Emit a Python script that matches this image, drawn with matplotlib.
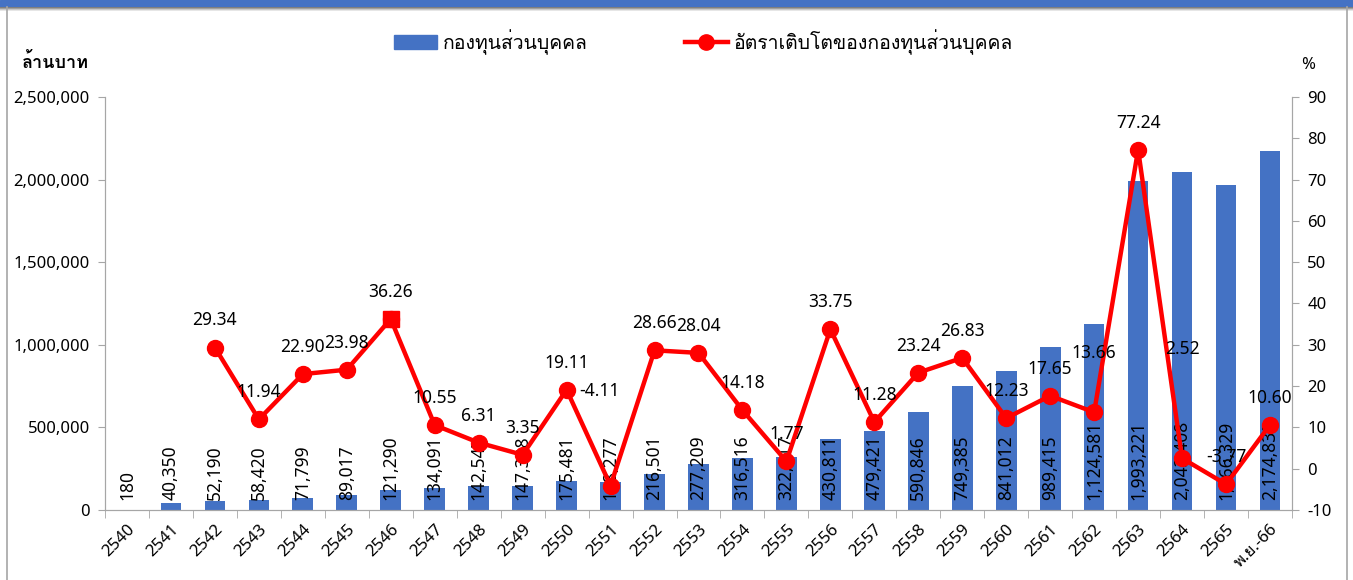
import matplotlib
matplotlib.use("Agg")
from matplotlib import pyplot as plt
from matplotlib import font_manager
from matplotlib.ft2font import FT2Font
from matplotlib.patches import Rectangle
from matplotlib.lines import Line2D
import matplotlib.ticker as ticker

years = ['2540', '2541', '2542', '2543', '2544', '2545', '2546', '2547', '2548',
         '2549', '2550', '2551', '2552', '2553', '2554', '2555', '2556', '2557',
         '2558', '2559', '2560', '2561', '2562', '2563', '2564', '2565', 'พ.ย.-66']
funds = [180, 40350, 52190, 58420, 71799, 89017, 121290, 134091, 142547,
         147328, 175481, 168277, 216501, 277209, 316516, 322117, 430811, 479421,
         590846, 749385, 841012, 989415, 1124581, 1993221, 2043408, 1966329, 2174838]
growth = [None, None, 29.34, 11.94, 22.90, 23.98, 36.26, 10.55, 6.31,
          3.35, 19.11, -4.11, 28.66, 28.04, 14.18, 1.77, 33.75, 11.28,
          23.24, 26.83, 12.23, 17.65, 13.66, 77.24, 2.52, -3.77, 10.60]

bar_name = 'กองทุนส่วนบุคคล'
line_name = 'อัตราเติบโตของกองทุนส่วนบุคคล'

# find a font with thai glyphs
thai_fonts = []
for f in font_manager.fontManager.ttflist:
    try:
        if 0x0E01 in FT2Font(f.fname).get_charmap() and f.name not in thai_fonts:
            thai_fonts.append(f.name)
    except Exception:
        pass
plt.rcParams['font.family'] = ['Noto Sans'] + thai_fonts + ['DejaVu Sans']
plt.rcParams['axes.unicode_minus'] = False

BLUE = '#4472C4'
RED = '#FF0000'
GRAY = '#A6A6A6'

fig = plt.figure(figsize=(13.53, 5.8), dpi=100)
ax = fig.add_axes([0.0776, 0.1207, 0.8773, 0.7121])
ax2 = ax.twinx()

x = list(range(len(years)))
ax.bar(x, funds, width=0.47, color=BLUE, zorder=2)
for i, v in enumerate(funds):
    ax.annotate('{:,}'.format(v), (i, 0), xytext=(0, 7), textcoords='offset points',
                rotation=90, ha='center', va='bottom', fontsize=12.5, color='black', zorder=5)

ax.set_xlim(-0.5, len(years) - 0.5)
ax.set_ylim(0, 2500000)
ax.yaxis.set_major_locator(ticker.MultipleLocator(500000))
ax.yaxis.set_major_formatter(ticker.FuncFormatter(lambda v, p: '{:,.0f}'.format(v)))
ax.set_xticks(x)
ax.set_xticklabels(years, rotation=45, ha='right', rotation_mode='anchor', fontsize=12)
ax.set_xticks([i - 0.5 for i in range(len(years) + 1)], minor=True)
ax.tick_params(axis='x', which='major', length=0, pad=8)
ax.tick_params(axis='x', which='minor', length=6, color=GRAY, direction='out')
ax.tick_params(axis='y', length=5, color=GRAY, labelsize=12, pad=6)

# growth line
gx = [i for i, g in enumerate(growth) if g is not None]
gy = [g for g in growth if g is not None]
ax2.plot(gx, gy, color=RED, lw=3.2, marker='o', ms=11.5, zorder=4)
ax2.plot([6], [growth[6]], color=RED, marker='s', ms=11.5, ls='none', zorder=4)
ax2.set_ylim(-10, 90)
ax2.yaxis.set_major_locator(ticker.MultipleLocator(10))
ax2.tick_params(axis='y', length=5, color=GRAY, labelsize=12, pad=6)

offsets = {11: (-8, 68), 22: (0, 43), 24: (0, 79)}
for i, g in zip(gx, gy):
    dx, dy = offsets.get(i, (0, 19.5))
    ax2.annotate('{:.2f}'.format(g), (i, g), xytext=(dx, dy), textcoords='offset points',
                 ha='center', va='center', fontsize=12.5, color='black', zorder=6)

for a in (ax, ax2):
    a.spines['top'].set_visible(False)
    for s in ('left', 'right', 'bottom'):
        a.spines[s].set_color(GRAY)

# legend
handles = [Rectangle((0, 0), 1, 1, color=BLUE),
           Line2D([], [], color=RED, lw=3.2, marker='o', ms=11)]
fig.legend(handles, [bar_name, line_name], loc='center', bbox_to_anchor=(0.52, 0.928),
           ncol=2, frameon=False, fontsize=14, columnspacing=5, handlelength=2.2,
           handletextpad=0.3)

fig.text(22 / 1353, 1 - 63 / 580, 'ล้านบาท', fontsize=13, fontweight='bold', va='center', ha='left')
fig.text(1308 / 1353, 1 - 65 / 580, '%', fontsize=12, fontweight='bold', va='center', ha='center')

# frame around the chart
fig.patches.append(Rectangle((0, 1 - 7 / 580), 1, 7 / 580, transform=fig.transFigure,
                             color=BLUE, zorder=0))
for k, c in enumerate(['#7F7F7F', '#A0A0A0', '#C8C8C8', '#E6E6E6']):
    fig.patches.append(Rectangle((0, 1 - (8 + k) / 580), 1, 1 / 580, transform=fig.transFigure,
                                 color=c, zorder=0, lw=0))
fig.add_artist(Line2D([7 / 1353, 7 / 1353], [0, 1 - 7 / 580], transform=fig.transFigure,
                      color=GRAY, lw=1.2))
fig.add_artist(Line2D([1347 / 1353, 1347 / 1353], [0, 1 - 7 / 580], transform=fig.transFigure,
                      color=GRAY, lw=1.2))

fig.savefig('out.png', dpi=100)
